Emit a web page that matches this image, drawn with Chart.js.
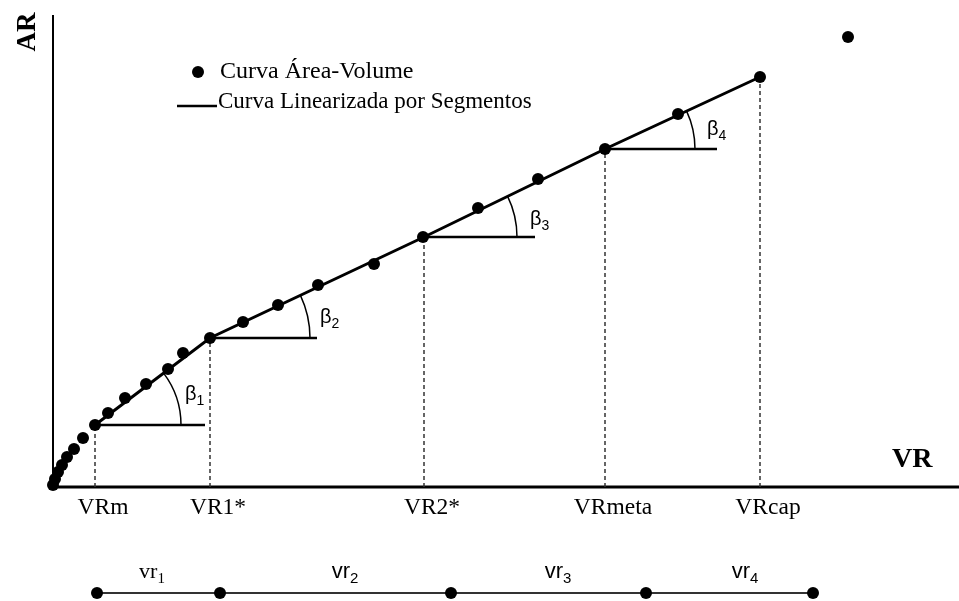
<!DOCTYPE html>
<html>
<head>
<meta charset="utf-8">
<script src="https://cdn.jsdelivr.net/npm/chart.js@4.4.1/dist/chart.umd.min.js"></script>
<style>
  html, body { margin: 0; padding: 0; background: #fff; }
  #wrap { width: 959px; height: 601px; }
</style>
</head>
<body>
<div id="wrap"><canvas id="chart" width="959" height="601"></canvas></div>
<script>
// Area-volume curve (schematic units, origin at the axes corner)
const areaVolumeX = [0, 2, 5, 9, 14, 21, 30, 42, 55, 72, 93, 115, 130, 157, 190, 225, 265, 321, 370, 425, 485, 552, 625, 707, 795];
const areaVolumeY = [2, 8, 15, 22, 30, 38, 49, 62, 74, 89, 103, 118, 134, 149, 165, 182, 202, 223, 250, 279, 308, 338, 373, 410, 450];

// Breakpoints of the linearized curve
const breakLabels = ["VRm", "VR1*", "VR2*", "VRmeta", "VRcap"];
const breakX = [42, 157, 371, 552, 707];
const breakY = [62, 149, 250, 338, 410];

// Horizontal reference lines for the angles beta
const refEndX = [152, 264, 482, 664];
const angleSubs = ["1", "2", "3", "4"];
const angleLabelX = [132, 267, 477, 654];
const angleLabelY = [87, 164, 262, 352];

// Volume ranges bar below the chart
const rangeX = [44, 167, 398, 593, 760];
const rangeY = -106;
const rangeSubs = ["1", "2", "3", "4"];
const rangeLabelX = [99, 292, 505, 692];

const axisTop = 472;
const arcRadius = [86, 100, 93, 90];
const SERIF = "'Liberation Serif', 'Times New Roman', serif";
const SANS = "'Liberation Sans', Arial, sans-serif";

const datasets = [
  {
    label: "Curva Área-Volume",
    data: areaVolumeX.map((x, i) => ({ x, y: areaVolumeY[i] })),
    showLine: false,
    pointRadius: 6,
    pointBackgroundColor: "#000",
    pointBorderWidth: 0,
    clip: false,
  },
  {
    label: "Curva Linearizada por Segmentos",
    data: breakX.map((x, i) => ({ x, y: breakY[i] })),
    showLine: true,
    borderColor: "#000",
    borderWidth: 3,
    pointRadius: 0,
    clip: false,
  },
];

refEndX.forEach((end, i) => {
  datasets.push({
    data: [{ x: breakX[i], y: breakY[i] }, { x: end, y: breakY[i] }],
    showLine: true,
    borderColor: "#000",
    borderWidth: 2.5,
    pointRadius: 0,
    clip: false,
  });
});

breakX.forEach((x, i) => {
  datasets.push({
    data: [{ x, y: 0 }, { x, y: breakY[i] }],
    showLine: true,
    borderColor: "#333",
    borderWidth: 1.5,
    borderDash: [4, 3],
    pointRadius: 0,
    clip: false,
  });
});

datasets.push({
  data: rangeX.map((x) => ({ x, y: rangeY })),
  showLine: true,
  borderColor: "#333",
  borderWidth: 2,
  pointRadius: 6,
  pointBackgroundColor: "#000",
  pointBorderWidth: 0,
  clip: false,
});

function subText(ctx, x, y, main, sub, font, size, subSize) {
  ctx.font = `${size}px ${font}`;
  ctx.textAlign = "left";
  ctx.textBaseline = "alphabetic";
  ctx.fillText(main, x, y);
  const w = ctx.measureText(main).width;
  ctx.font = `${subSize}px ${font}`;
  ctx.fillText(sub, x + w, y + 5);
  return w + ctx.measureText(sub).width;
}

const decorations = {
  id: "decorations",
  beforeDatasetsDraw(chart) {
    const { ctx, scales: { x, y }, chartArea } = chart;
    const x0 = x.getPixelForValue(0);
    const y0 = y.getPixelForValue(0);
    ctx.save();
    ctx.strokeStyle = "#000";
    ctx.lineWidth = 2;
    ctx.beginPath();
    ctx.moveTo(x0, y.getPixelForValue(axisTop));
    ctx.lineTo(x0, y0);
    ctx.stroke();
    ctx.lineWidth = 3;
    ctx.beginPath();
    ctx.moveTo(x0, y0);
    ctx.lineTo(chartArea.right, y0);
    ctx.stroke();
    ctx.restore();
  },
  afterDatasetsDraw(chart) {
    const { ctx, scales: { x, y } } = chart;
    ctx.save();
    ctx.fillStyle = "#000";
    ctx.strokeStyle = "#000";

    // angle arcs
    ctx.lineWidth = 1.5;
    for (let i = 0; i < refEndX.length; i++) {
      const cx = x.getPixelForValue(breakX[i]);
      const cy = y.getPixelForValue(breakY[i]);
      const nx = x.getPixelForValue(breakX[i + 1]);
      const ny = y.getPixelForValue(breakY[i + 1]);
      const theta = Math.atan2(cy - ny, nx - cx);
      ctx.beginPath();
      ctx.arc(cx, cy, arcRadius[i], -theta, 0);
      ctx.stroke();
      subText(ctx, x.getPixelForValue(angleLabelX[i]), y.getPixelForValue(angleLabelY[i]), "β", angleSubs[i], SANS, 20, 14);
    }

    // breakpoint labels
    ctx.font = `23.5px ${SERIF}`;
    ctx.textAlign = "center";
    ctx.textBaseline = "alphabetic";
    breakLabels.forEach((lab, i) => {
      ctx.fillText(lab, x.getPixelForValue(breakX[i]) + 8, y.getPixelForValue(-27));
    });

    // range labels
    rangeSubs.forEach((s, i) => {
      const font = i === 0 ? SERIF : SANS;
      ctx.font = `22px ${font}`;
      const w1 = ctx.measureText("vr").width;
      ctx.font = `15px ${font}`;
      const w2 = ctx.measureText(s).width;
      const left = x.getPixelForValue(rangeLabelX[i]) - (w1 + w2) / 2;
      subText(ctx, left, y.getPixelForValue(rangeY) - 15, "vr", s, font, 22, 15);
    });

    // axis titles
    ctx.font = `bold 28px ${SERIF}`;
    ctx.textAlign = "left";
    ctx.fillText("VR", 892, 467);
    ctx.save();
    ctx.translate(35, 32);
    ctx.rotate(-Math.PI / 2);
    ctx.textAlign = "center";
    ctx.font = `bold 27px ${SERIF}`;
    ctx.fillText("AR", 0, 0);
    ctx.restore();

    // legend
    ctx.beginPath();
    ctx.arc(198, 72, 6, 0, Math.PI * 2);
    ctx.fill();
    ctx.lineWidth = 2.5;
    ctx.beginPath();
    ctx.moveTo(177, 106);
    ctx.lineTo(217, 106);
    ctx.stroke();
    ctx.textAlign = "left";
    ctx.font = `24px ${SERIF}`;
    ctx.fillText(chart.data.datasets[0].label, 220, 78);
    ctx.font = `23px ${SERIF}`;
    ctx.fillText(chart.data.datasets[1].label, 218, 108);
    ctx.restore();
  },
};

new Chart(document.getElementById("chart"), {
  type: "scatter",
  data: { datasets },
  options: {
    responsive: false,
    animation: false,
    devicePixelRatio: 1,
    layout: { padding: 0, autoPadding: false },
    plugins: {
      legend: { display: false },
      tooltip: { enabled: false },
    },
    scales: {
      x: { type: "linear", min: -53, max: 906, display: false },
      y: { type: "linear", min: -114, max: 487, display: false },
    },
  },
  plugins: [decorations],
});
</script>
</body>
</html>
